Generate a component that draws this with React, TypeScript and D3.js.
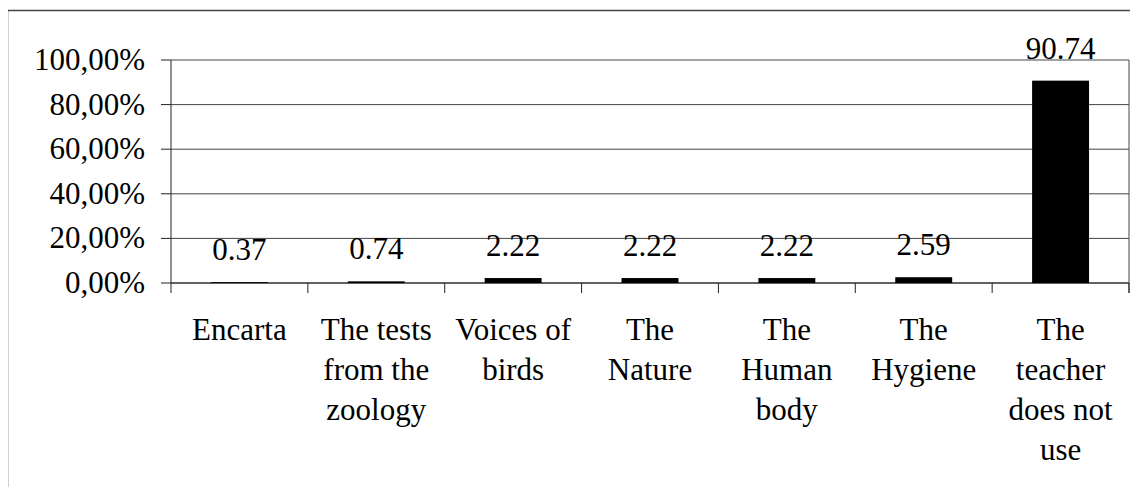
import React from "react";
import * as d3 from "d3";

// categories (line breaks as in the original chart)
const categories = [
  "Encarta",
  "The tests\nfrom the\nzoology",
  "Voices of\nbirds",
  "The\nNature",
  "The\nHuman\nbody",
  "The\nHygiene",
  "The\nteacher\ndoes not\nuse",
];
const values = [0.37, 0.74, 2.22, 2.22, 2.22, 2.59, 90.74];
const valueLabels = ["0.37", "0.74", "2.22", "2.22", "2.22", "2.59", "90.74"];
const yTicks = [0, 20, 40, 60, 80, 100];

export default function App() {
  const width = 1138, height = 495;
  const plot = { left: 171, right: 1129, top: 60, bottom: 283 };

  const x = d3.scaleBand<string>()
    .domain(categories)
    .range([plot.left, plot.right])
    .paddingInner(0.584)
    .paddingOuter(0.292);
  const band = d3.scaleBand<string>().domain(categories).range([plot.left, plot.right]);
  const y = d3.scaleLinear().domain([0, 100]).range([plot.bottom, plot.top]);
  const fmt = (v: number) => d3.format(".2f")(v).replace(".", ",") + "%";

  return (
    <div style={{ margin: -8 }}>
      <style>{`.lbl { font-family: "Liberation Serif", "Times New Roman", serif; font-size: 31px; fill: #000; }`}</style>
      <svg width={width} height={height} style={{ display: "block" }}>
        {/* outer frame (only left/top visible) */}
        <rect x={7.5} y={10.5} width={1200} height={600} fill="none" stroke="#444" strokeWidth={1.5} />

        {/* gridlines */}
        {yTicks.map(t => (
          <line key={"g" + t} x1={plot.left} x2={plot.right} y1={y(t)} y2={y(t)} stroke="#444" strokeWidth={1} />
        ))}
        {/* plot frame right */}
        <line x1={plot.right} x2={plot.right} y1={plot.top} y2={plot.bottom + 10} stroke="#444" strokeWidth={1} />
        {/* y axis */}
        <line x1={plot.left} x2={plot.left} y1={plot.top} y2={plot.bottom + 10} stroke="#222" strokeWidth={1} />
        {yTicks.map(t => (
          <g key={"t" + t}>
            <line x1={plot.left - 10} x2={plot.left} y1={y(t)} y2={y(t)} stroke="#222" strokeWidth={1} />
            <text className="lbl" x={plot.left - 26} y={y(t) + 10} textAnchor="end">{fmt(t)}</text>
          </g>
        ))}
        {/* x axis line and ticks */}
        <line x1={plot.left} x2={plot.right} y1={plot.bottom} y2={plot.bottom} stroke="#222" strokeWidth={1} />
        {categories.map((c, i) => (
          <line key={"xt" + i} x1={(band(c) as number) + band.bandwidth()} x2={(band(c) as number) + band.bandwidth()}
            y1={plot.bottom} y2={plot.bottom + 10} stroke="#222" strokeWidth={1} />
        ))}

        {/* bars */}
        {categories.map((c, i) => (
          <rect key={"b" + i} x={x(c)} y={y(values[i])} width={x.bandwidth()}
            height={plot.bottom - y(values[i])} fill="#000" />
        ))}

        {/* value labels */}
        {categories.map((c, i) => (
          <text key={"v" + i} className="lbl" x={(x(c) as number) + x.bandwidth() / 2} y={y(values[i]) - 22}
            textAnchor="middle">{valueLabels[i]}</text>
        ))}

        {/* category labels */}
        {categories.map((c, i) => (
          <text key={"c" + i} className="lbl" x={(band(c) as number) + band.bandwidth() / 2} y={340}
            textAnchor="middle">
            {c.split("\n").map((line, j) => (
              <tspan key={j} x={(band(c) as number) + band.bandwidth() / 2} y={340 + j * 40}>{line}</tspan>
            ))}
          </text>
        ))}
      </svg>
    </div>
  );
}
